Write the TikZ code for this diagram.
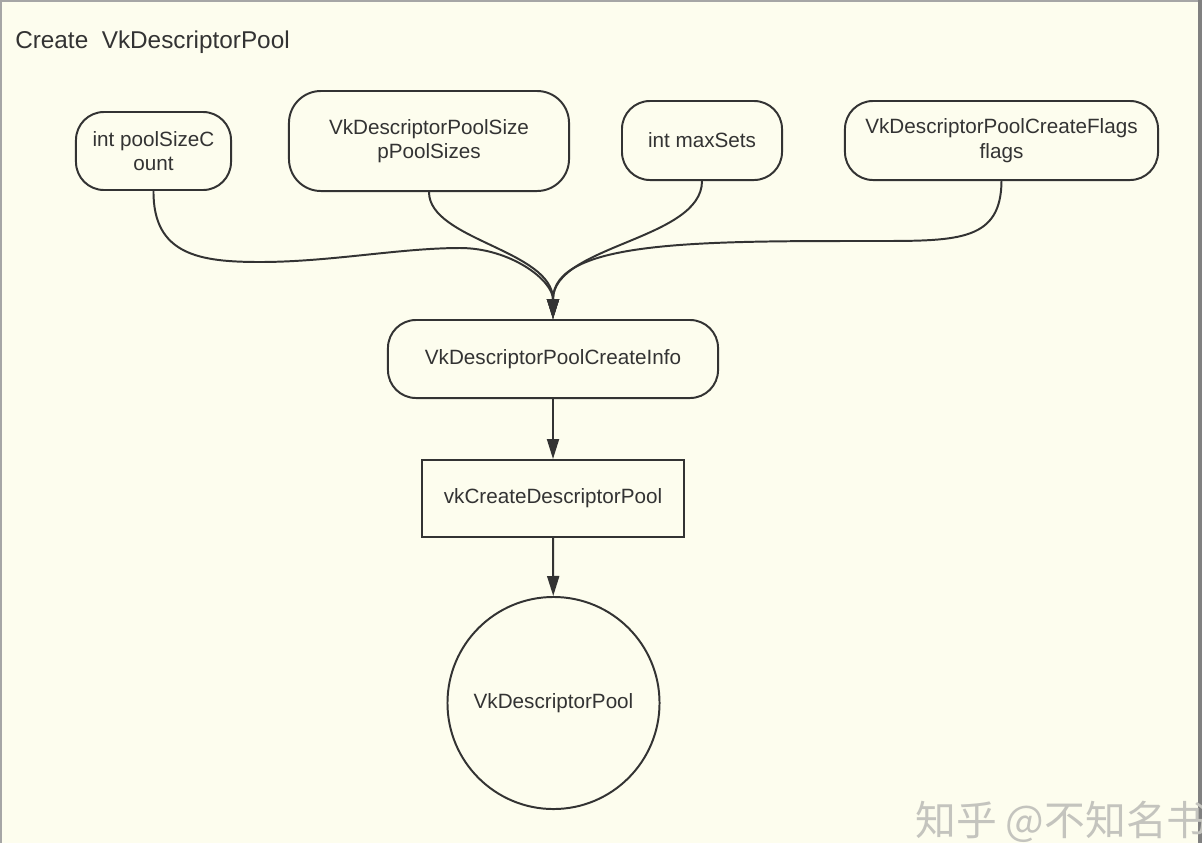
\documentclass[tikz,border=0pt]{standalone}
\usepackage{fontspec}
\setmainfont{Liberation Sans}
\newfontfamily\cjk{Noto Sans CJK SC}
\usetikzlibrary{arrows.meta}

\definecolor{paper}{RGB}{253,253,238}
\definecolor{ink}{RGB}{51,51,51}
\definecolor{mark}{RGB}{196,196,190}

\tikzset{
   txt/.style={text=ink, font=\fontsize{14.7}{17.5}\selectfont, align=center, inner sep=0pt},
   param/.style={txt, draw=ink, line width=1.4pt, rounded corners=0.7cm},
   callbox/.style={txt, draw=ink, line width=1.4pt},
   flow/.style={draw=ink, line width=1.4pt, -{Triangle[length=0.5cm,width=0.3cm]}}
}

\begin{document}
\begin{tikzpicture}[x=0.025cm, y=-0.025cm]
   \fill[paper] (0,0) rectangle (1202,843);
   \useasboundingbox (0,0) rectangle (1202,843);
   \draw[gray!70, line width=2pt] (0,1) -- (1202,1);
   \draw[gray!70, line width=2pt] (1,0) -- (1,843);
   \draw[gray, line width=2.5pt] (1200,0) -- (1200,843);

   \node[txt, anchor=west, font=\fontsize{17.3}{20}\selectfont] (title) at (15,42) {Create\ \ VkDescriptorPool};

   % the four fields
   \node[param, minimum width=3.875cm, minimum height=1.95cm] (psc) at (153.5,151) {int poolSizeC\\ount};
   \node[param, minimum width=7cm, minimum height=2.5cm, rounded corners=0.8cm] (pps) at (429,141) {VkDescriptorPoolSize\\pPoolSizes};
   \node[param, minimum width=4cm, minimum height=1.975cm] (mxs) at (702,140.5) {int maxSets};
   \node[param, minimum width=7.825cm, minimum height=1.975cm] (flg) at (1001.5,140.5) {VkDescriptorPoolCreateFlags\\flags};

   \node[param, minimum width=8.25cm, minimum height=1.95cm] (info) at (553,359) {VkDescriptorPoolCreateInfo};
   \node[callbox, minimum width=6.55cm, minimum height=1.925cm] (call) at (553,498.5) {vkCreateDescriptorPool};
   \node[txt, circle, draw=ink, line width=1.4pt, minimum size=5.3cm] (pool) at (553.5,703) {VkDescriptorPool};

   \draw[flow] (psc.south) .. controls (153,255) and (200,262) .. (260,262)
      .. controls (330,262) and (400,248) .. (460,248)
      .. controls (510,248) and (553,280) .. (info.north);
   \draw[flow] (pps.south) .. controls (429,240) and (553,250) .. (info.north);
   \draw[flow] (mxs.south) .. controls (702,240) and (553,245) .. (info.north);
   \draw[flow] (flg.south) .. controls (1001,240) and (960,241) .. (880,241)
      .. controls (700,241) and (553,240) .. (info.north);

   \draw[flow] (info) -- (call);
   \draw[flow] (call) -- (pool);

   \node[anchor=west, text=mark, font=\cjk\fontsize{29}{33}\selectfont, inner sep=0pt] (wm) at (915,822) {知乎 @不知名书};
\end{tikzpicture}
\end{document}
